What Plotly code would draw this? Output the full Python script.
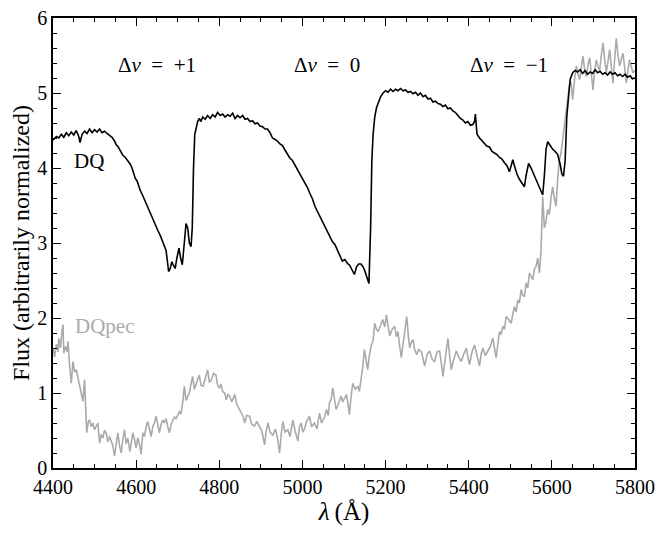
import plotly.graph_objects as go

### DQ spectrum (black)
dq_wave = [4400, 4408, 4414, 4420, 4426, 4432, 4438, 4444, 4450, 4456, 4462, 4465, 4470, 4476, 4482,
           4488, 4494, 4500, 4506, 4512, 4518, 4524, 4530, 4536, 4542, 4548, 4552, 4556, 4562, 4568,
           4574, 4580, 4586, 4590, 4594, 4598, 4602, 4606, 4610, 4616, 4622, 4628, 4634, 4640, 4646,
           4652, 4658, 4664, 4668, 4672, 4676, 4678, 4682, 4686, 4690, 4694, 4698, 4703, 4707, 4711,
           4715, 4720, 4724, 4728, 4732, 4735, 4738, 4741, 4744, 4748, 4752, 4756, 4760, 4766, 4772,
           4778, 4784, 4790, 4796, 4802, 4808, 4814, 4820, 4826, 4832, 4838, 4844, 4850, 4856, 4862,
           4868, 4874, 4880, 4886, 4892, 4898, 4904, 4910, 4916, 4922, 4928, 4934, 4940, 4946, 4952,
           4958, 4964, 4970, 4976, 4982, 4988, 4994, 5000, 5006, 5012, 5018, 5024, 5030, 5036, 5042,
           5048, 5054, 5060, 5066, 5072, 5078, 5084, 5090, 5096, 5102, 5108, 5114, 5120, 5125, 5130,
           5135, 5141, 5146, 5150, 5155, 5160, 5164, 5167, 5170, 5174, 5178, 5183, 5188, 5194, 5200,
           5206, 5212, 5218, 5224, 5230, 5236, 5242, 5248, 5254, 5260, 5266, 5272, 5278, 5284, 5290,
           5296, 5302, 5308, 5314, 5320, 5326, 5332, 5338, 5344, 5350, 5356, 5362, 5368, 5374, 5380,
           5386, 5392, 5398, 5404, 5410, 5414, 5416, 5418, 5420, 5426, 5432, 5438, 5444, 5450, 5456,
           5462, 5468, 5474, 5480, 5486, 5492, 5498, 5502, 5506, 5510, 5516, 5522, 5528, 5534, 5538,
           5544, 5550, 5556, 5562, 5568, 5574, 5578, 5582, 5586, 5590, 5596, 5602, 5608, 5614, 5620,
           5624, 5628, 5632, 5636, 5640, 5644, 5650, 5656, 5662, 5668, 5674, 5680, 5686, 5692, 5698,
           5704, 5710, 5716, 5722, 5728, 5734, 5740, 5746, 5752, 5758, 5764, 5770, 5776, 5782, 5788,
           5794, 5800]
dq_flux = [4.37, 4.42, 4.40, 4.45, 4.41, 4.47, 4.43, 4.48, 4.44, 4.50, 4.42, 4.34, 4.45, 4.49, 4.46,
           4.52, 4.47, 4.51, 4.48, 4.52, 4.47, 4.49, 4.46, 4.44, 4.41, 4.36, 4.31, 4.29, 4.22, 4.17,
           4.14, 4.10, 4.05, 4.00, 3.92, 3.86, 3.83, 3.75, 3.70, 3.63, 3.55, 3.48, 3.40, 3.32, 3.25,
           3.17, 3.10, 3.02, 2.96, 2.90, 2.72, 2.62, 2.66, 2.75, 2.70, 2.66, 2.80, 2.93, 2.80, 2.71,
           2.95, 3.26, 3.20, 3.00, 2.95, 3.20, 4.00, 4.45, 4.52, 4.62, 4.66, 4.62, 4.68, 4.65, 4.70,
           4.66, 4.71, 4.68, 4.74, 4.70, 4.72, 4.68, 4.71, 4.69, 4.73, 4.66, 4.70, 4.67, 4.70, 4.65,
           4.66, 4.62, 4.63, 4.59, 4.60, 4.56, 4.55, 4.52, 4.52, 4.47, 4.40, 4.38, 4.36, 4.32, 4.30,
           4.24, 4.19, 4.13, 4.10, 4.04, 3.97, 3.92, 3.87, 3.80, 3.74, 3.66, 3.59, 3.49, 3.42, 3.36,
           3.28, 3.21, 3.15, 3.08, 3.02, 2.98, 2.90, 2.82, 2.76, 2.78, 2.73, 2.70, 2.64, 2.58, 2.68,
           2.72, 2.72, 2.68, 2.63, 2.55, 2.46, 3.20, 4.10, 4.45, 4.68, 4.80, 4.88, 4.95, 5.00, 5.03,
           5.01, 5.05, 5.02, 5.05, 5.03, 5.06, 5.03, 5.04, 5.01, 5.02, 4.99, 5.01, 4.97, 5.00, 4.95,
           4.97, 4.92, 4.93, 4.88, 4.89, 4.86, 4.85, 4.82, 4.84, 4.79, 4.80, 4.76, 4.74, 4.70, 4.66,
           4.64, 4.60, 4.62, 4.57, 4.58, 4.62, 4.72, 4.55, 4.45, 4.40, 4.36, 4.32, 4.29, 4.28, 4.22,
           4.20, 4.18, 4.14, 4.12, 4.07, 4.03, 3.95, 4.02, 4.11, 4.03, 3.92, 3.85, 3.80, 3.75, 3.90,
           4.06, 4.00, 3.92, 3.84, 3.76, 3.70, 3.64, 3.90, 4.25, 4.35, 4.30, 4.25, 4.22, 4.18, 4.05,
           3.92, 3.89, 4.10, 4.69, 5.00, 5.18, 5.27, 5.30, 5.28, 5.31, 5.26, 5.30, 5.25, 5.28, 5.26,
           5.31, 5.27, 5.29, 5.25, 5.27, 5.24, 5.28, 5.25, 5.27, 5.23, 5.25, 5.22, 5.25, 5.21, 5.23,
           5.19, 5.20]

### DQpec spectrum (grey)
pec_wave = [4400, 4404, 4408, 4412, 4414, 4418, 4422, 4424, 4426, 4430, 4434, 4436, 4440, 4444, 4448,
            4452, 4456, 4460, 4464, 4468, 4472, 4476, 4479, 4481, 4485, 4488, 4492, 4496, 4500, 4504,
            4508, 4512, 4516, 4520, 4524, 4528, 4532, 4536, 4540, 4544, 4548, 4552, 4556, 4560, 4564,
            4568, 4572, 4576, 4580, 4585, 4588, 4592, 4596, 4600, 4604, 4608, 4612, 4616, 4620, 4624,
            4628, 4632, 4636, 4640, 4644, 4648, 4652, 4656, 4660, 4664, 4668, 4672, 4676, 4680, 4684,
            4688, 4692, 4696, 4700, 4704, 4708, 4712, 4716, 4720, 4724, 4728, 4732, 4736, 4740, 4744,
            4748, 4752, 4756, 4761, 4766, 4772, 4776, 4780, 4786, 4792, 4796, 4800, 4804, 4808, 4813,
            4817, 4821, 4825, 4830, 4837, 4842, 4849, 4854, 4858, 4861, 4866, 4873, 4878, 4885, 4890,
            4897, 4902, 4909, 4913, 4917, 4922, 4929, 4935, 4940, 4945, 4949, 4953, 4958, 4965, 4970,
            4977, 4982, 4989, 4993, 4997, 5001, 5005, 5010, 5017, 5022, 5029, 5035, 5041, 5046, 5053,
            5058, 5062, 5065, 5069, 5073, 5077, 5081, 5086, 5093, 5097, 5101, 5106, 5110, 5113, 5117,
            5121, 5127, 5133, 5137, 5141, 5145, 5149, 5153, 5157, 5161, 5165, 5170, 5174, 5178, 5182,
            5188, 5193, 5198, 5202, 5206, 5210, 5216, 5222, 5226, 5230, 5234, 5238, 5242, 5246, 5251,
            5255, 5258, 5262, 5266, 5270, 5275, 5280, 5286, 5290, 5294, 5300, 5306, 5312, 5318, 5324,
            5330, 5334, 5338, 5344, 5350, 5354, 5358, 5364, 5370, 5376, 5382, 5388, 5394, 5398, 5402,
            5408, 5414, 5420, 5426, 5430, 5434, 5440, 5446, 5452, 5458, 5462, 5466, 5470, 5474, 5478,
            5482, 5486, 5490, 5496, 5502, 5506, 5510, 5514, 5518, 5522, 5526, 5530, 5534, 5538, 5542,
            5546, 5550, 5554, 5558, 5562, 5566, 5570, 5574, 5578, 5582, 5586, 5590, 5594, 5598, 5602,
            5606, 5610, 5614, 5618, 5622, 5626, 5630, 5634, 5638, 5642, 5646, 5650, 5655, 5659, 5663,
            5667, 5671, 5675, 5679, 5683, 5687, 5691, 5695, 5699, 5703, 5707, 5711, 5715, 5719, 5723,
            5727, 5731, 5735, 5739, 5743, 5747, 5751, 5755, 5759, 5763, 5767, 5771, 5775, 5779, 5783,
            5787, 5791, 5795, 5800]
pec_flux = [1.60, 1.48, 1.65, 1.55, 1.73, 1.60, 1.85, 1.91, 1.53, 1.62, 1.55, 1.69, 1.36, 1.13, 1.42,
            1.28, 1.31, 1.20, 1.13, 1.02, 0.89, 1.18, 0.80, 0.47, 0.62, 0.64, 0.55, 0.60, 0.51, 0.56,
            0.60, 0.33, 0.45, 0.40, 0.50, 0.47, 0.35, 0.42, 0.36, 0.30, 0.16, 0.35, 0.47, 0.30, 0.20,
            0.38, 0.51, 0.32, 0.40, 0.22, 0.35, 0.47, 0.38, 0.27, 0.40, 0.32, 0.18, 0.47, 0.42, 0.55,
            0.62, 0.50, 0.42, 0.55, 0.60, 0.69, 0.55, 0.47, 0.58, 0.64, 0.60, 0.66, 0.55, 0.47, 0.58,
            0.64, 0.68, 0.66, 0.71, 0.75, 0.72, 0.87, 1.09, 0.90, 0.96, 1.00, 1.12, 1.22, 1.05, 1.13,
            1.18, 1.24, 1.10, 1.09, 1.20, 1.31, 1.15, 1.16, 1.26, 1.24, 1.10, 1.07, 1.12, 1.02, 1.00,
            0.91, 0.98, 0.96, 0.88, 0.98, 0.85, 0.78, 0.74, 0.68, 0.60, 0.70, 0.69, 0.58, 0.56, 0.62,
            0.55, 0.50, 0.31, 0.50, 0.60, 0.48, 0.44, 0.52, 0.40, 0.20, 0.45, 0.62, 0.48, 0.51, 0.42,
            0.64, 0.50, 0.36, 0.55, 0.60, 0.48, 0.52, 0.62, 0.69, 0.55, 0.60, 0.52, 0.73, 0.60, 0.68,
            0.78, 0.70, 0.87, 0.91, 1.07, 0.90, 0.78, 0.85, 0.96, 0.88, 0.92, 0.98, 0.85, 0.71, 0.95,
            1.13, 1.05, 1.09, 1.02, 1.18, 1.35, 1.58, 1.45, 1.31, 1.50, 1.62, 1.70, 1.93, 1.85, 1.82,
            1.90, 1.98, 1.88, 2.04, 1.90, 1.76, 1.85, 1.89, 1.75, 1.82, 1.62, 1.47, 1.65, 1.80, 2.02,
            1.75, 1.60, 1.68, 1.71, 1.58, 1.51, 1.58, 1.55, 1.46, 1.36, 1.52, 1.56, 1.45, 1.42, 1.55,
            1.56, 1.40, 1.22, 1.48, 1.73, 1.50, 1.31, 1.45, 1.56, 1.48, 1.42, 1.52, 1.60, 1.48, 1.38,
            1.55, 1.64, 1.50, 1.36, 1.52, 1.60, 1.50, 1.56, 1.62, 1.73, 1.60, 1.47, 1.65, 1.82, 1.78,
            1.89, 1.85, 2.02, 1.98, 1.93, 2.05, 2.15, 2.08, 2.24, 2.20, 2.38, 2.30, 2.29, 2.47, 2.40,
            2.60, 2.55, 2.51, 2.65, 2.69, 2.80, 2.60, 2.90, 3.62, 3.20, 3.29, 3.45, 3.38, 3.60, 3.75,
            3.60, 3.49, 3.85, 4.11, 4.20, 4.38, 4.55, 4.78, 4.95, 5.09, 5.15, 4.91, 5.20, 5.36, 5.25,
            5.18, 5.35, 5.49, 5.30, 5.22, 5.38, 5.47, 5.25, 5.04, 5.30, 5.44, 5.35, 5.30, 5.50, 5.67,
            5.45, 5.27, 5.42, 5.58, 5.35, 5.13, 5.45, 5.73, 5.50, 5.36, 5.45, 5.53, 5.35, 5.13, 5.30,
            5.44, 5.35, 5.27, 5.30]

### band labels
band_labels = ["Δ<i>ν</i>\u2002=\u2002+1", "Δ<i>ν</i>\u2002=\u20020", "Δ<i>ν</i>\u2002=\u2002−1"]
band_x = [4650, 5059, 5498]
band_y = [5.37, 5.37, 5.37]

font_name = "Liberation Serif"

fig = go.Figure()
fig.add_trace(go.Scatter(x=pec_wave, y=pec_flux, mode="lines",
                         line=dict(color="#aaaaaa", width=1.6), showlegend=False))
fig.add_trace(go.Scatter(x=dq_wave, y=dq_flux, mode="lines",
                         line=dict(color="black", width=1.6), showlegend=False))

for txt, bx, by in zip(band_labels, band_x, band_y):
    fig.add_annotation(x=bx, y=by, text=txt, showarrow=False,
                       font=dict(family=font_name, size=21, color="black"))

fig.add_annotation(x=4446, y=4.1, text="DQ", showarrow=False, xanchor="left",
                   font=dict(family=font_name, size=21, color="black"))
fig.add_annotation(x=4448, y=1.89, text="DQpec", showarrow=False, xanchor="left",
                   font=dict(family=font_name, size=21, color="#aaaaaa"))

axis_style = dict(showline=True, linecolor="black", linewidth=1.5, mirror="ticks",
                  ticks="inside", ticklen=8, tickwidth=1, tickcolor="black",
                  showgrid=False, zeroline=False, automargin=False, ticklabeloverflow="allow",
                  tickfont=dict(family=font_name, size=20, color="black"))

fig.update_xaxes(range=[4400, 5800], tickvals=[4400, 4600, 4800, 5000, 5200, 5400, 5600, 5800],
                 minor=dict(dtick=50, ticks="inside", ticklen=4, tickcolor="black", showgrid=False),
                 title=dict(text="<i>λ</i>\u2009(Å)", font=dict(family=font_name, size=25, color="black"),
                            standoff=6),
                 **axis_style)
fig.update_yaxes(range=[0, 6], dtick=1,
                 minor=dict(dtick=0.2, ticks="inside", ticklen=4, tickcolor="black", showgrid=False),
                 title=dict(text="Flux (arbitrarily normalized)",
                            font=dict(family=font_name, size=24, color="black"), standoff=7),
                 **axis_style)

# the page puts the figure 8px in from the top-left corner, margins allow for it
fig.update_layout(width=665, height=534, plot_bgcolor="white", paper_bgcolor="white",
                  margin=dict(l=45, r=38, t=10, b=74), showlegend=False)

fig.write_html("out.html")
